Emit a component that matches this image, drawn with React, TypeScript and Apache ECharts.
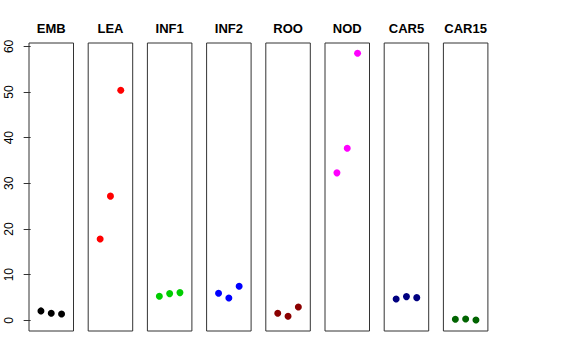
import React, { useEffect, useRef } from "react";
import * as echarts from "echarts";

const panels = ["EMB", "LEA", "INF1", "INF2", "ROO", "NOD", "CAR5", "CAR15"];
const xPositions = [1, 2, 3];
const embValues = [2.06, 1.54, 1.4];
const leaValues = [17.8, 27.2, 50.4];
const inf1Values = [5.26, 5.85, 6.07];
const inf2Values = [5.92, 4.9, 7.45];
const rooValues = [1.54, 0.88, 2.93];
const nodValues = [32.3, 37.7, 58.5];
const car5Values = [4.68, 5.19, 4.97];
const car15Values = [0.22, 0.3, 0.07];
const panelValues = [embValues, leaValues, inf1Values, inf2Values, rooValues, nodValues, car5Values, car15Values];
const panelColors = ["#000000", "#FF0000", "#00CD00", "#0000FF", "#8B0000", "#FF00FF", "#000080", "#006400"];
const yTicks = [0, 10, 20, 30, 40, 50, 60];

export default function App() {
  const ref = useRef<HTMLDivElement>(null);
  useEffect(() => {
    if (!ref.current) return;
    const chart = echarts.init(ref.current, null, { renderer: "svg" });
    const font = "'Liberation Sans', Arial, Helvetica, sans-serif";
    const left0 = 29;
    const pitch = 59.2;
    const w = 44.5;
    const grids = panels.map((_, i) => ({
      left: left0 + i * pitch,
      top: 43,
      width: w,
      height: 288,
      show: true,
      borderColor: "#333",
      borderWidth: 1,
      backgroundColor: "transparent",
    }));
    const xAxes = panels.map((_, i) => ({
      type: "value",
      gridIndex: i,
      min: -0.16,
      max: 4.16,
      show: false,
    }));
    const yAxes = panels.map((_, i) => ({
      type: "value",
      gridIndex: i,
      min: -2.34,
      max: 60.74,
      show: i === 0,
      splitLine: { show: false },
      axisLine: { show: false },
      axisTick: {
        show: i === 0,
        length: 7,
        customValues: yTicks,
        lineStyle: { color: "#333", width: 1 },
      },
      axisLabel: {
        show: i === 0,
        customValues: yTicks,
        rotate: 90,
        margin: 14,
        fontSize: 12,
        color: "#000",
        fontFamily: font,
      },
    }));
    const series = panels.map((name, i) => ({
      type: "scatter",
      name,
      xAxisIndex: i,
      yAxisIndex: i,
      symbolSize: 7,
      itemStyle: { color: panelColors[i], opacity: 1 },
      data: xPositions.map((x, j) => [x, panelValues[i][j]]),
    }));
    const titles = panels.map((name, i) => ({
      text: name,
      left: left0 + i * pitch + w / 2,
      top: 22,
      textAlign: "center",
      padding: 0,
      textStyle: { fontSize: 13, fontWeight: "bold", color: "#000", fontFamily: font },
    }));
    chart.setOption({
      animation: false,
      backgroundColor: "#fff",
      title: titles,
      grid: grids,
      xAxis: xAxes,
      yAxis: yAxes,
      series,
    });
    return () => chart.dispose();
  }, []);
  return <div ref={ref} style={{ position: "fixed", left: 0, top: 0, width: 576, height: 360 }} />;
}
